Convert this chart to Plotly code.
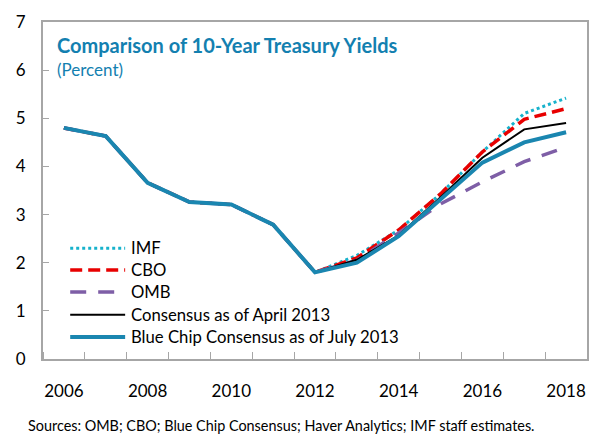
import plotly.graph_objects as go

years = list(range(2006, 2019))
hist = [4.80, 4.63, 3.66, 3.26, 3.21, 2.79, 1.80]
imf = hist + [2.15, 2.68, 3.43, 4.30, 5.10, 5.42]
cbo = hist + [2.10, 2.68, 3.43, 4.30, 4.98, 5.20]
omb = hist + [2.05, 2.62, 3.22, 3.68, 4.10, 4.40]
consensus = hist + [2.06, 2.57, 3.36, 4.18, 4.77, 4.90]
bluechip = hist + [2.00, 2.55, 3.31, 4.08, 4.50, 4.71]

series_names = ["IMF", "CBO", "OMB", "Consensus as of April 2013", "Blue Chip Consensus as of July 2013"]
series_values = [imf, cbo, omb, consensus, bluechip]
series_colors = ["#17B2CC", "#E80000", "#7E5EA6", "#000000", "#1A86B0"]
series_widths = [3, 3.5, 3.5, 2, 4]
series_dashes = ["dot", "12px,6px", "16px,12px", "solid", "solid"]

tick_years = [2006, 2008, 2010, 2012, 2014, 2016, 2018]
FONT = "Lato"

fig = go.Figure()
for name, vals, col, w, d in zip(series_names, series_values, series_colors, series_widths, series_dashes):
    fig.add_trace(go.Scatter(x=years, y=vals, mode="lines", name=name,
                             line=dict(color=col, width=w, dash=d), showlegend=False))

# custom legend
leg_y = [0.329, 0.264, 0.199, 0.131, 0.065]
for name, col, w, d, yy in zip(series_names, series_colors, series_widths, series_dashes, leg_y):
    fig.add_shape(type="line", xref="paper", yref="paper", x0=0.05, x1=0.151, y0=yy, y1=yy,
                  line=dict(color=col, width=w, dash=d))
    fig.add_annotation(xref="paper", yref="paper", x=0.158, y=yy, text=name, showarrow=False,
                       xanchor="left", yanchor="middle", font=dict(family=FONT, size=16.7, color="#000"))

fig.add_annotation(xref="paper", yref="paper", x=0.022, y=0.932, text="<b>Comparison of 10-Year Treasury Yields</b>",
                   showarrow=False, xanchor="left", yanchor="middle", font=dict(family=FONT, size=20, color="#1380B0"))
fig.add_annotation(xref="paper", yref="paper", x=0.022, y=0.858, text="(Percent)",
                   showarrow=False, xanchor="left", yanchor="middle", font=dict(family=FONT, size=17, color="#1380B0"))
fig.add_annotation(xref="paper", yref="paper", x=-0.032, y=-0.197,
                   text="Sources: OMB; CBO; Blue Chip Consensus; Haver Analytics; IMF staff estimates.",
                   showarrow=False, xanchor="left", yanchor="middle", font=dict(family=FONT, size=14.4, color="#000"))

fig.update_layout(
    width=589, height=434,
    margin=dict(l=43, r=2, t=22, b=75),
    plot_bgcolor="white", paper_bgcolor="white",
    font=dict(family=FONT, size=17, color="#000"),
)
fig.update_xaxes(range=[2005.5, 2018.5], tickvals=tick_years, ticktext=[str(y) for y in tick_years],
                 ticks="", showgrid=False, zeroline=False, showline=True, linecolor="#A6A6A6", linewidth=2,
                 mirror=True, ticklabelstandoff=16, automargin=False,
                 minor=dict(tickvals=[y - 0.5 for y in years] + [2018.5], ticks="inside", ticklen=7,
                            tickcolor="#A6A6A6", tickwidth=1, showgrid=False))
fig.update_yaxes(range=[0, 7], dtick=1, ticks="inside", ticklen=6, tickcolor="#A6A6A6", tickwidth=1,
                 showgrid=False, zeroline=False, showline=True, linecolor="#A6A6A6", linewidth=2,
                 mirror=True, ticklabelstandoff=12, automargin=False)

fig.write_html("out.html", config={"displayModeBar": False},
               post_script="document.body.style.margin='0';")
